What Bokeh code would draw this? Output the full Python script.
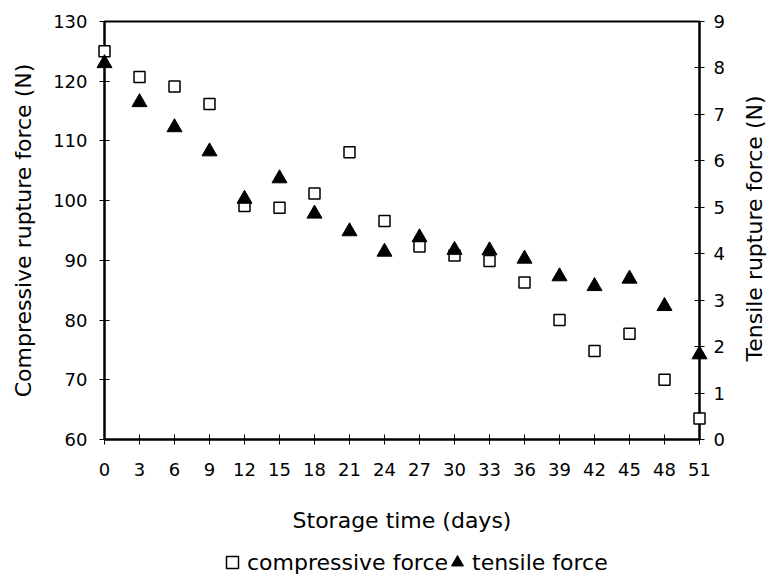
import math
from bokeh.plotting import figure
from bokeh.layouts import column, row
from bokeh.models import Range1d, LinearAxis, FixedTicker, Legend, LegendItem, Label
from bokeh.embed import file_html
from bokeh.resources import INLINE

# ---- data ----
days = [0, 3, 6, 9, 12, 15, 18, 21, 24, 27, 30, 33, 36, 39, 42, 45, 48, 51]
compressive = [125.0, 120.7, 119.1, 116.2, 99.1, 98.8, 101.2, 108.1, 96.6, 92.3,
               90.8, 89.9, 86.3, 80.0, 74.8, 77.7, 70.0, 63.5]
tensile = [8.10, 7.26, 6.72, 6.20, 5.18, 5.62, 4.86, 4.48, 4.04, 4.35,
           4.08, 4.07, 3.89, 3.51, 3.30, 3.46, 2.87, 1.83]
x_ticks = list(range(0, 52, 3))
left_ticks = [60, 70, 80, 90, 100, 110, 120, 130]
right_ticks = [0, 1, 2, 3, 4, 5, 6, 7, 8, 9]
series_names = ["compressive force", "tensile force"]
x_title = "Storage time (days)"
left_title = "Compressive rupture force (N)"
right_title = "Tensile rupture force (N)"

FONT = "DejaVu Sans"
SQUARE = dict(marker="square", size=11, fill_color="white",
              line_color="black", line_width=1.5)
TRIANGLE = dict(marker="triangle", size=15, fill_color="black",
                line_color="black", line_width=1)

# ---------------- main chart ----------------
p = figure(frame_width=595, frame_height=418,
           x_range=Range1d(0, 51), y_range=Range1d(60, 130),
           output_backend="svg", toolbar_location=None,
           min_border_left=104, min_border_right=40,
           min_border_top=21, min_border_bottom=106,
           background_fill_color="white", border_fill_color="white")
p.extra_y_ranges = {"t": Range1d(0, 9)}

p.xgrid.visible = False
p.ygrid.visible = False
p.outline_line_color = "black"
p.outline_line_width = 2


def style_axis(ax, ticks, label, tick_standoff, label_standoff):
    ax.ticker = FixedTicker(ticks=ticks)
    if label:
        ax.axis_label = label
    ax.axis_line_color = "black"
    ax.axis_line_width = 2
    ax.major_tick_line_color = "black"
    ax.major_tick_line_width = 1
    ax.major_tick_in = 5
    ax.major_tick_out = 5
    ax.minor_tick_line_color = None
    ax.major_label_text_font = FONT
    ax.major_label_text_font_size = "18px"
    ax.major_label_text_color = "black"
    ax.major_label_standoff = tick_standoff
    ax.axis_label_text_font = FONT
    ax.axis_label_text_font_size = "22px"
    ax.axis_label_text_font_style = "normal"
    ax.axis_label_text_color = "black"
    ax.axis_label_standoff = label_standoff


style_axis(p.xaxis[0], x_ticks, x_title, 18, 29)
style_axis(p.yaxis[0], left_ticks, left_title, 12, 14)

right = LinearAxis(y_range_name="t")
style_axis(right, right_ticks, None, 9, 0)
p.add_layout(right, "right")

p.scatter(days, compressive, level="overlay", **SQUARE)
p.scatter(days, tensile, y_range_name="t", level="overlay", **TRIANGLE)

# ---------------- right axis title (reads bottom-to-top) ----------------
rt = figure(width=30, height=545, x_range=Range1d(0, 1), y_range=Range1d(0, 1),
            output_backend="svg", toolbar_location=None,
            x_axis_type=None, y_axis_type=None, min_border=0,
            outline_line_color=None, background_fill_color="white",
            border_fill_color="white")
rt.grid.visible = False
rt.add_layout(Label(x=15, y=211, x_units="screen", y_units="screen",
                    text=right_title, angle=math.pi / 2,
                    text_align="center", text_baseline="middle",
                    text_font=FONT, text_font_size="22px", text_color="black"))

# ---------------- legend strip ----------------
# the key glyphs reuse the series data; the strip's ranges keep them out of view
lg = figure(width=769, height=36, x_range=Range1d(-200, -199),
            y_range=Range1d(-200, -199),
            output_backend="svg", toolbar_location=None,
            x_axis_type=None, y_axis_type=None, min_border=0,
            outline_line_color=None, background_fill_color="white",
            border_fill_color="white")
lg.grid.visible = False
k1 = lg.scatter(days, compressive, **SQUARE)
k2 = lg.scatter(days, tensile, **TRIANGLE)

LEG = dict(orientation="horizontal", glyph_width=30, glyph_height=30,
           label_standoff=0, spacing=0, padding=0, margin=0,
           border_line_color=None, background_fill_alpha=0,
           label_text_font=FONT, label_text_font_size="22px",
           label_text_color="black")
lg.add_layout(Legend(items=[LegendItem(label=series_names[0], renderers=[k1])],
                     location=(217, 4), **LEG))
lg.add_layout(Legend(items=[LegendItem(label=series_names[1], renderers=[k2])],
                     location=(442, 4), **LEG))

layout = column(row(p, rt, spacing=0), lg, spacing=0)
open("out.html", "w").write(file_html(layout, INLINE))
